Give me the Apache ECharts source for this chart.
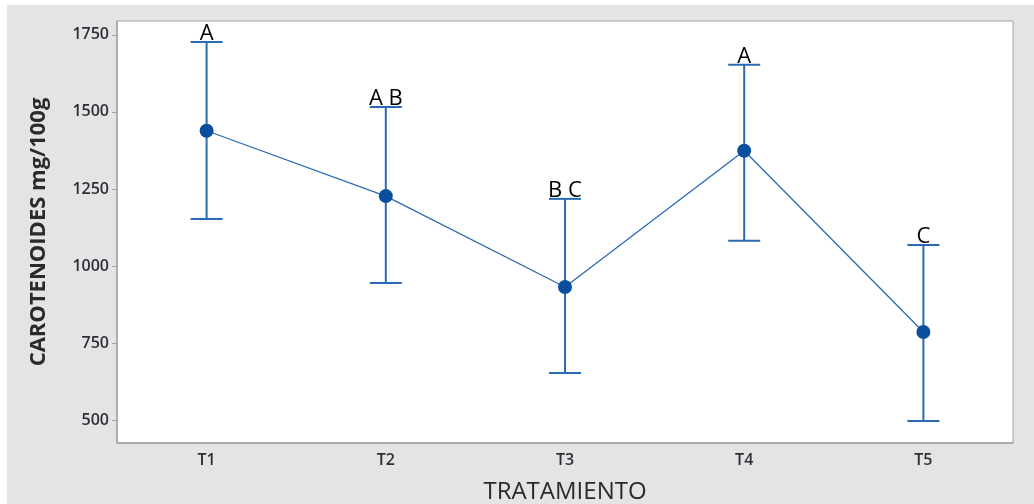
<!DOCTYPE html>
<html>
<head>
<meta charset="utf-8">
<script src="https://cdn.jsdelivr.net/npm/echarts@6/dist/echarts.min.js"></script>
<style>
  html, body { margin: 0; padding: 0; background: #ffffff; }
  #frame { position: absolute; left: 7px; top: 5px; right: 0; bottom: 0; background: #e4e4e4; }
  #chart { position: absolute; left: 0; top: 0; width: 1034px; height: 504px; }
</style>
</head>
<body>
<div id="frame"></div>
<div id="chart"></div>
<script>
// Treatments and carotenoid means with their interval bounds (mg/100g)
const categories = ['T1', 'T2', 'T3', 'T4', 'T5'];
const means = [1439, 1227, 932, 1374, 786];
const lower = [1153, 945, 653, 1082, 497];
const upper = [1727, 1516, 1218, 1653, 1068];
const groups = ['A', 'A B', 'B C', 'A', 'C'];
const yTicks = [500, 750, 1000, 1250, 1500, 1750];

const blue = '#2a6ab3';
const dotBlue = '#0a4f9e';

const chart = echarts.init(document.getElementById('chart'), null, { renderer: 'canvas' });

const barData = categories.map((c, i) => [i, lower[i], upper[i], groups[i]]);

chart.setOption({
  backgroundColor: 'transparent',
  animation: false,
  grid: {
    left: 117, right: 21, top: 21, bottom: 61,
    outerBoundsMode: 'none',
    show: true, backgroundColor: '#ffffff', borderColor: '#a3a3a3', borderWidth: 1
  },
  xAxis: {
    type: 'category',
    data: categories,
    boundaryGap: true,
    name: 'TRATAMIENTO',
    nameLocation: 'middle',
    nameGap: 37,
    nameTextStyle: { fontFamily: 'Open Sans', fontSize: 24, fontWeight: 500, color: '#2a2a2a' },
    axisLine: { lineStyle: { color: '#a3a3a3', width: 1.5 } },
    axisTick: { alignWithLabel: true, length: 4, lineStyle: { color: '#a3a3a3' } },
    axisLabel: { fontFamily: 'Open Sans', fontSize: 16, fontWeight: 600, color: '#2e2e3a', margin: 9 }
  },
  yAxis: {
    type: 'value',
    min: 426,
    max: 1795,
    name: 'CAROTENOIDES mg/100g',
    nameLocation: 'middle',
    nameGap: 67,
    nameTextStyle: { fontFamily: 'Open Sans', fontSize: 22, fontWeight: 'bold', color: '#2a2a2a' },
    axisLine: { show: true, lineStyle: { color: '#a3a3a3', width: 1.5 } },
    axisTick: { show: true, length: 5, customValues: yTicks, lineStyle: { color: '#a3a3a3' } },
    axisLabel: {
      customValues: yTicks,
      formatter: function (v) { return String(v); },
      fontFamily: 'Open Sans', fontSize: 16, fontWeight: 600, color: '#2e2e3a', margin: 8
    },
    splitLine: { show: false }
  },
  series: [
    {
      type: 'custom',
      data: barData,
      z: 3,
      renderItem: function (params, api) {
        const x = api.value(0);
        const lo = api.coord([x, api.value(1)]);
        const hi = api.coord([x, api.value(2)]);
        const half = 16;
        const style = { stroke: blue, lineWidth: 2 };
        return {
          type: 'group',
          children: [
            { type: 'line', shape: { x1: lo[0], y1: lo[1], x2: hi[0], y2: hi[1] }, style: style },
            { type: 'line', shape: { x1: lo[0] - half, y1: lo[1], x2: lo[0] + half, y2: lo[1] }, style: style },
            { type: 'line', shape: { x1: hi[0] - half, y1: hi[1], x2: hi[0] + half, y2: hi[1] }, style: style },
            {
              type: 'text',
              x: hi[0], y: hi[1] + 3,
              style: {
                text: api.value(3),
                fontFamily: 'Open Sans', fontSize: 22, fill: '#000000',
                align: 'center', verticalAlign: 'bottom'
              }
            }
          ]
        };
      }
    },
    {
      type: 'line',
      data: means,
      z: 4,
      symbol: 'circle',
      symbolSize: 14,
      itemStyle: { color: dotBlue },
      lineStyle: { color: blue, width: 1.3 }
    }
  ]
});
</script>
</body>
</html>
